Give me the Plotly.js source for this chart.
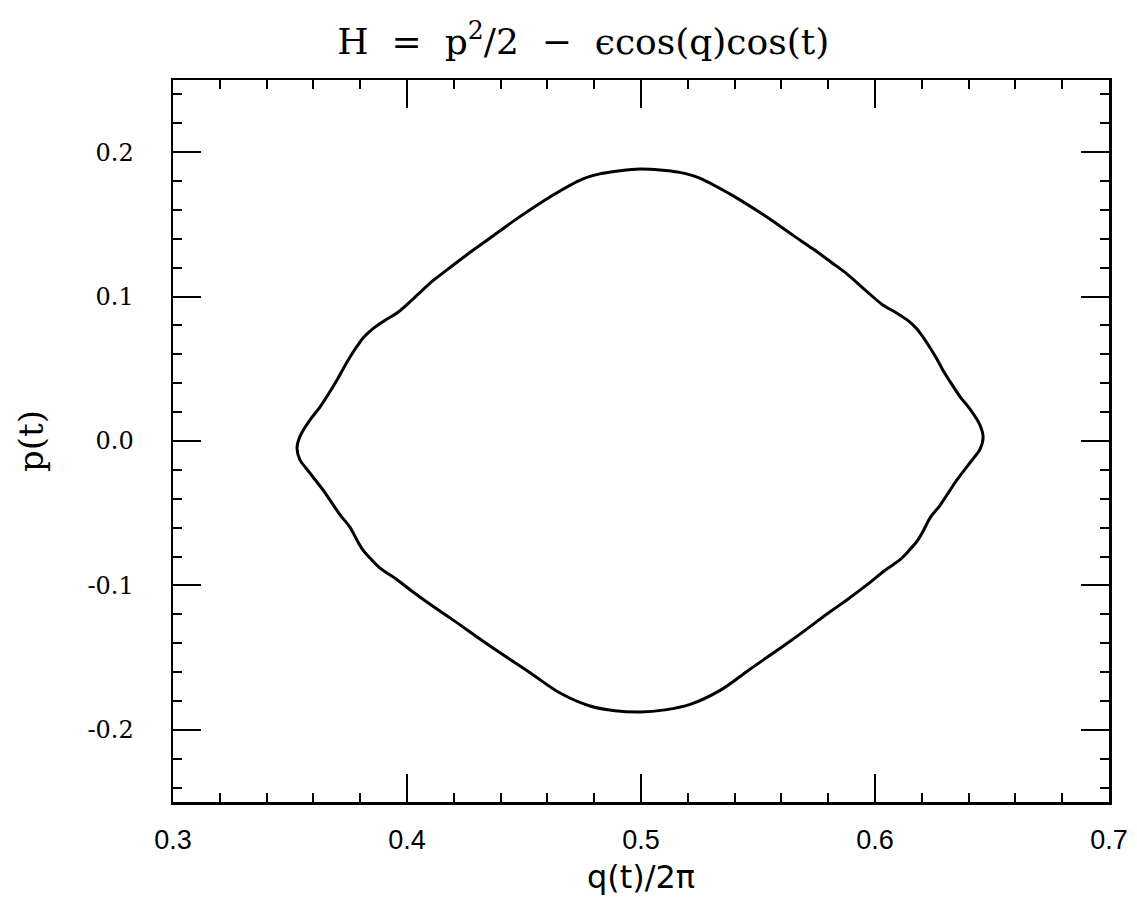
<!DOCTYPE html>
<html>
<head>
<meta charset="utf-8">
<script src="https://cdn.plot.ly/plotly-3.0.1.min.js"></script>
<style>html,body{margin:0;padding:0;background:#fff;}</style>
</head>
<body>
<div id="chart" style="width:1137px;height:915px;"></div>
<script>
// Invariant curve q(t)/2pi vs p(t) (closed loop, starting at left tip)
const qUpperLeft = [0.3530,0.3545,0.3585,0.3628,0.3667,0.3701,0.3730,0.3758,0.3786,0.3815,0.3852,0.3900,0.3960,0.4030,0.4111,0.4175,0.4256,0.4342,0.4470,0.4611,0.4752,0.4830,0.4910,0.4996];
const pUpperLeft = [-0.0048,0.0040,0.0145,0.0235,0.0332,0.0422,0.0508,0.0585,0.0655,0.0718,0.0775,0.0830,0.0890,0.0990,0.1110,0.1190,0.1290,0.1390,0.1540,0.1690,0.1815,0.1852,0.1872,0.1884];

const qUpperRight = [0.5082,0.5162,0.5240,0.5381,0.5522,0.5650,0.5736,0.5817,0.5881,0.5962,0.6032,0.6092,0.6140,0.6177,0.6206,0.6234,0.6262,0.6291,0.6325,0.6364,0.6407,0.6447,0.6462];
const pUpperRight = [0.1877,0.1861,0.1828,0.1710,0.1568,0.1424,0.1329,0.1233,0.1156,0.1040,0.0944,0.0887,0.0835,0.0780,0.0718,0.0649,0.0574,0.0489,0.0401,0.0306,0.0219,0.0116,0.0028];

const qLowerRight = [0.6449,0.6424,0.6394,0.6351,0.6321,0.6278,0.6236,0.6206,0.6180,0.6150,0.6107,0.6043,0.5979,0.5881,0.5808,0.5637,0.5466,0.5338,0.5210,0.5103,0.4996];
const pLowerRight = [-0.0056,-0.0113,-0.0176,-0.0268,-0.0340,-0.0445,-0.0531,-0.0623,-0.0693,-0.0750,-0.0822,-0.0895,-0.0979,-0.1099,-0.1183,-0.1387,-0.1580,-0.1727,-0.1824,-0.1862,-0.1877];

const qLowerLeft = [0.4889,0.4782,0.4654,0.4526,0.4355,0.4184,0.4111,0.4013,0.3949,0.3885,0.3842,0.3812,0.3786,0.3756,0.3714,0.3671,0.3641,0.3598,0.3568,0.3543,0.3530];
const pLowerLeft = [-0.1868,-0.1835,-0.1745,-0.1605,-0.1420,-0.1225,-0.1145,-0.1030,-0.0950,-0.0880,-0.0810,-0.0755,-0.0686,-0.0596,-0.0512,-0.0409,-0.0339,-0.0249,-0.0187,-0.0132,-0.0048];

const xTickVals = [0.3,0.4,0.5,0.6,0.7];
const xTickText = ['0.3','0.4','0.5','0.6','0.7'];
const yTickVals = [-0.2,-0.1,0.0,0.1,0.2];
const yTickText = ['-0.2','-0.1','0.0','0.1','0.2'];

const qAll = qUpperLeft.concat(qUpperRight, qLowerRight, qLowerLeft);
const pAll = pUpperLeft.concat(pUpperRight, pLowerRight, pLowerLeft);

const traces = [{
  x: qAll, y: pAll,
  type: 'scatter', mode: 'lines',
  line: {color: '#000', width: 3, shape: 'spline', smoothing: 1},
  hoverinfo: 'skip', showlegend: false
}];

const axisCommon = {
  showline: true, linecolor: '#000', linewidth: 2.5,
  mirror: 'allticks', ticks: 'inside', ticklen: 28, tickwidth: 2, tickcolor: '#000',
  showgrid: false, zeroline: false, fixedrange: true,
  minor: {ticks: 'inside', ticklen: 9, tickwidth: 2, tickcolor: '#000', dtick: 0.02, showgrid: false}
};

const layout = {
  width: 1137, height: 915,
  margin: {l: 173, r: 28, t: 80, b: 113},
  paper_bgcolor: '#fff', plot_bgcolor: '#fff',
  title: {
    text: 'H  =  p<sup>2</sup>/2  \u2212  \u03f5cos(q)cos(t)',
    font: {family: 'DejaVu Serif', size: 36, color: '#000'},
    x: 0.513, xanchor: 'center', xref: 'container', y: 0.955, yanchor: 'middle', yref: 'container'
  },
  xaxis: Object.assign({}, axisCommon, {
    range: [0.3, 0.7], tickvals: xTickVals, ticktext: xTickText,
    tickfont: {family: 'Liberation Sans', size: 27, color: '#000'},
    ticklabelstandoff: 12,
    title: {text: 'q(t)/2\u03c0', font: {family: 'DejaVu Sans', size: 32, color: '#000'}, standoff: 12}
  }),
  yaxis: Object.assign({}, axisCommon, {
    range: [-0.25, 0.25], tickvals: yTickVals, ticktext: yTickText,
    tickfont: {family: 'DejaVu Serif', size: 24, color: '#000'},
    ticklabelstandoff: 32,
    title: {text: 'p(t)', font: {family: 'DejaVu Serif', size: 34, color: '#000'}, standoff: 34}
  })
};

Plotly.newPlot('chart', traces, layout, {displayModeBar: false, staticPlot: true});
</script>
</body>
</html>
